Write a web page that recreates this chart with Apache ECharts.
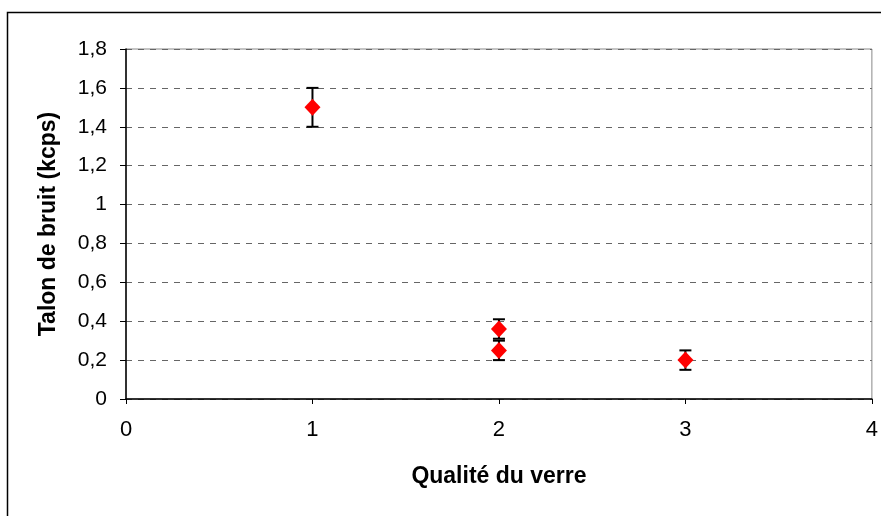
<!DOCTYPE html>
<html>
<head>
<meta charset="utf-8">
<script src="https://cdn.jsdelivr.net/npm/echarts@6/dist/echarts.min.js"></script>
<style>
html,body{margin:0;padding:0;background:#fff;}
#chart{width:881px;height:516px;}
</style>
</head>
<body>
<div id="chart"></div>
<script>
// Data
const xValues = [1, 2, 2, 3];
const yValues = [1.5, 0.36, 0.25, 0.2];
const errValues = [0.1, 0.05, 0.05, 0.05];
const yTicks = [0, 0.2, 0.4, 0.6, 0.8, 1, 1.2, 1.4, 1.6, 1.8];
const xTicks = [0, 1, 2, 3, 4];
const xTitle = 'Qualité du verre';
const yTitle = 'Talon de bruit (kcps)';

const points = xValues.map((x, i) => [x, yValues[i]]);
const errData = xValues.map((x, i) => [x, yValues[i] - errValues[i], yValues[i] + errValues[i]]);

const font = '"Liberation Sans", Arial, sans-serif';
const chart = echarts.init(document.getElementById('chart'));
chart.setOption({
  backgroundColor: '#fff',
  animation: false,
  graphic: [{
    type: 'rect', left: 5, top: 10, z: -1,
    shape: { width: 1000, height: 1000 },
    style: { fill: 'none', stroke: '#000', lineWidth: 1.5 }
  }],
  grid: { left: 126, right: 9, top: 49, bottom: 117, show: true, borderColor: '#888', borderWidth: 1, backgroundColor: 'transparent' },
  xAxis: {
    type: 'value', min: 0, max: 4, interval: 1,
    name: xTitle, nameLocation: 'middle', nameGap: 66,
    nameTextStyle: { fontFamily: font, fontSize: 23, fontWeight: 'bold', color: '#000' },
    axisLine: { lineStyle: { color: '#000', width: 1.5 } },
    axisTick: { show: true, length: 5, lineStyle: { color: '#000' } },
    axisLabel: { fontFamily: font, fontSize: 22, color: '#000', margin: 20 },
    splitLine: { show: false }
  },
  yAxis: {
    type: 'value', min: 0, max: 1.8, interval: 0.2,
    name: yTitle, nameLocation: 'middle', nameGap: 66,
    nameTextStyle: { fontFamily: font, fontSize: 23, fontWeight: 'bold', color: '#000' },
    axisLine: { show: true, lineStyle: { color: '#000', width: 1.5 } },
    axisTick: { show: true, length: 6, lineStyle: { color: '#000' } },
    axisLabel: { fontFamily: font, fontSize: 21, color: '#000', margin: 19,
      formatter: v => String(Math.round(v * 10) / 10).replace('.', ',') },
    splitLine: { show: true, lineStyle: { color: '#666', type: [6, 6], width: 1 } }
  },
  series: [
    {
      type: 'custom',
      data: errData,
      z: 2,
      renderItem: function (params, api) {
        const x = api.value(0);
        const lo = api.coord([x, api.value(1)]);
        const hi = api.coord([x, api.value(2)]);
        const hw = 6;
        const style = { stroke: '#000', lineWidth: 2 };
        return {
          type: 'group',
          children: [
            { type: 'line', shape: { x1: lo[0], y1: lo[1], x2: hi[0], y2: hi[1] }, style },
            { type: 'line', shape: { x1: lo[0] - hw, y1: lo[1], x2: lo[0] + hw, y2: lo[1] }, style },
            { type: 'line', shape: { x1: hi[0] - hw, y1: hi[1], x2: hi[0] + hw, y2: hi[1] }, style }
          ]
        };
      }
    },
    {
      type: 'scatter',
      data: points,
      symbol: 'diamond',
      symbolSize: [16, 17],
      z: 3,
      itemStyle: { color: '#ff0000', opacity: 1 }
    }
  ]
});
</script>
</body>
</html>
